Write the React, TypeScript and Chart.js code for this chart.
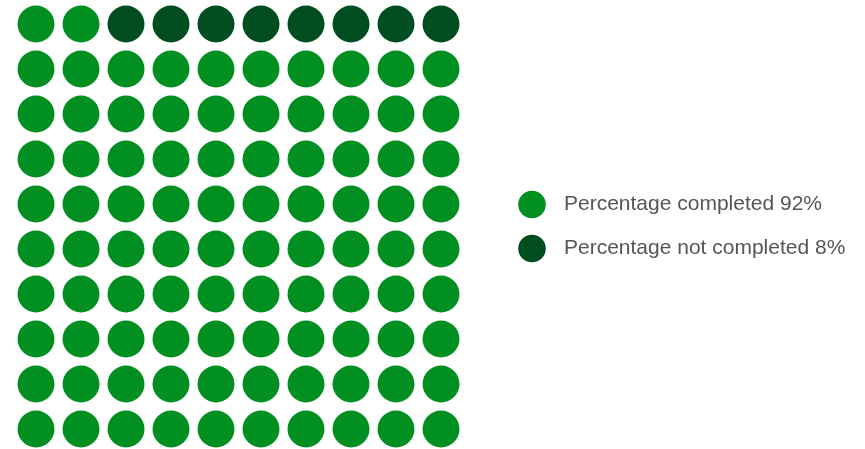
import React, { useEffect, useRef } from 'react';
import { Chart, registerables } from 'chart.js';

Chart.register(...registerables);

const categories = ['Percentage completed', 'Percentage not completed'];
const percentages = [92, 8];
const seriesColors = ['#008F20', '#004D20'];
const gridColumns = 10;
const gridRows = 10;

function buildDatasets() {
  const points: { x: number; y: number }[][] = categories.map(() => []);
  let k = 0;
  percentages.forEach((pct, s) => {
    for (let n = 0; n < pct; n++, k++) {
      points[s].push({ x: k % gridColumns, y: Math.floor(k / gridColumns) });
    }
  });
  return categories.map((c, s) => ({
    label: `${c} ${percentages[s]}%`,
    data: points[s],
    backgroundColor: seriesColors[s],
    borderWidth: 0,
    pointRadius: 18.5,
    pointHoverRadius: 18.5,
    clip: false as any,
  }));
}

const waffleLegend = {
  id: 'waffleLegend',
  afterDraw(chart: any) {
    const ctx = chart.ctx;
    ctx.save();
    chart.data.datasets.forEach((ds: any, i: number) => {
      const cy = 204.5 + i * 44;
      ctx.beginPath();
      ctx.arc(532, cy, 13.8, 0, Math.PI * 2);
      ctx.fillStyle = ds.backgroundColor;
      ctx.fill();
      ctx.font = '21px "Liberation Sans", Arial, sans-serif';
      ctx.fillStyle = '#555555';
      ctx.textBaseline = 'middle';
      ctx.textAlign = 'left';
      ctx.fillText(ds.label, 564, cy);
    });
    ctx.restore();
  },
};

export default function App() {
  const ref = useRef<HTMLCanvasElement>(null);
  useEffect(() => {
    if (!ref.current) return;
    const chart = new Chart(ref.current, {
      type: 'scatter',
      data: { datasets: buildDatasets() as any },
      options: {
        animation: false,
        responsive: false,
        devicePixelRatio: 1,
        layout: { padding: { left: 36, top: 24, right: 424, bottom: 20 } },
        plugins: { legend: { display: false }, tooltip: { enabled: false } },
        scales: {
          x: { type: 'linear', min: 0, max: gridColumns - 1, display: false },
          y: { type: 'linear', min: 0, max: gridRows - 1, display: false },
        },
      },
      plugins: [waffleLegend],
    });
    return () => chart.destroy();
  }, []);
  return (
    <div style={{ position: 'absolute', left: 0, top: 0, width: 865, height: 449, background: '#fff' }}>
      <canvas ref={ref} width={865} height={449} />
    </div>
  );
}
